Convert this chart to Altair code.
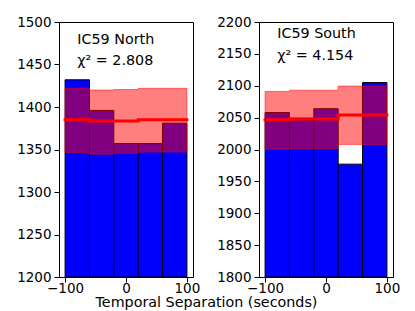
import altair as alt
import pandas as pd

# bin edges (seconds)
edges = [-100, -60, -20, 20, 60, 100]
x_ticks = [-100, 0, 100]

# IC59 North
north_counts = [1432, 1396, 1357, 1357, 1381]
north_lower = [1346.5, 1344.5, 1345.5, 1347, 1347]
north_upper = [1422, 1420, 1420.5, 1422, 1422]
north_mean = [1385, 1383.5, 1383.5, 1385, 1385]
north_ticks = [1200, 1250, 1300, 1350, 1400, 1450, 1500]
north_label = "IC59 North"
north_chi = "χ² = 2.808"

# IC59 South
south_counts = [2058, 2049, 2064, 1977, 2105]
south_lower = [2000.5, 2001.5, 2001.5, 2008, 2008]
south_upper = [2091, 2093, 2093, 2099.5, 2099.5]
south_mean = [2046.5, 2048, 2048, 2054, 2054]
south_ticks = [1800, 1850, 1900, 1950, 2000, 2050, 2100, 2150, 2200]
south_label = "IC59 South"
south_chi = "χ² = 4.154"

FONT = "DejaVu Sans"


def panel(counts, lower, upper, mean, ydom, yticks, label, chi, ty1, ty2, with_title):
    bars = pd.DataFrame({"left": edges[:-1], "right": edges[1:], "count": counts,
                         "base": [ydom[0]] * len(counts)})
    band = pd.DataFrame({
        "x": edges,
        "lower": lower + [lower[-1]],
        "upper": upper + [upper[-1]],
        "mean": mean + [mean[-1]],
    })
    xs = alt.Scale(domain=[-110, 110], nice=False, zero=False)
    ys = alt.Scale(domain=ydom, nice=False, zero=False)
    if with_title:
        xaxis = alt.Axis(values=x_ticks, title="Temporal Separation (seconds)",
                         titleX=147, titleY=29, titleAlign="center",
                         titleBaseline="alphabetic", titleFontSize=14.3,
                         titleFont=FONT, titleFontWeight="normal", titleColor="black")
    else:
        xaxis = alt.Axis(values=x_ticks, title=None)
    yaxis = alt.Axis(values=yticks, title=None, format="d")

    b = alt.Chart(bars).mark_bar(color="#0000ff", stroke="black", strokeWidth=1,
                                 clip=True).encode(
        x=alt.X("left:Q", scale=xs, axis=xaxis),
        x2="right:Q",
        y=alt.Y("count:Q", scale=ys, axis=yaxis),
        y2="base:Q",
    )
    a = alt.Chart(band).mark_area(interpolate="step-after", fill="red", fillOpacity=0.5,
                                  stroke="red", strokeOpacity=0.5, strokeWidth=1).encode(
        x=alt.X("x:Q", scale=xs, axis=xaxis),
        y=alt.Y("lower:Q", scale=ys, axis=yaxis),
        y2="upper:Q",
    )
    l = alt.Chart(band).mark_line(interpolate="step-after", color="red", strokeWidth=3,
                                  strokeCap="square").encode(
        x=alt.X("x:Q", scale=xs, axis=xaxis),
        y=alt.Y("mean:Q", scale=ys, axis=yaxis),
    )
    txt = pd.DataFrame({"x": [-80, -80], "y": [ty1, ty2], "t": [label, chi]})
    t = alt.Chart(txt).mark_text(align="left", baseline="alphabetic", fontSize=14.3,
                                 font=FONT, color="black").encode(
        x=alt.X("x:Q", scale=xs, axis=xaxis),
        y=alt.Y("y:Q", scale=ys, axis=yaxis),
        text="t:N",
    )
    return alt.layer(b, a, l, t).properties(width=134, height=255)


left = panel(north_counts, north_lower, north_upper, north_mean, [1200, 1500],
             north_ticks, north_label, north_chi, 1474.6, 1449.5, True)
right = panel(south_counts, south_lower, south_upper, south_mean, [1800, 2200],
              south_ticks, south_label, south_chi, 2175, 2141, False)

chart = alt.hconcat(left, right, spacing=66, bounds="flush").properties(
    padding={"left": 8, "top": 6, "right": 5, "bottom": 5}
).configure_view(
    stroke="black", strokeWidth=1
).configure_axis(
    grid=False, domain=False, tickColor="black", tickSize=5, tickWidth=1,
    labelColor="black", labelFontSize=13.5, labelFont=FONT, labelFlush=False,
).configure_axisX(labelPadding=-1).configure_axisY(labelPadding=3)

chart.save("out.html", embed_options={"renderer": "svg", "actions": False})
